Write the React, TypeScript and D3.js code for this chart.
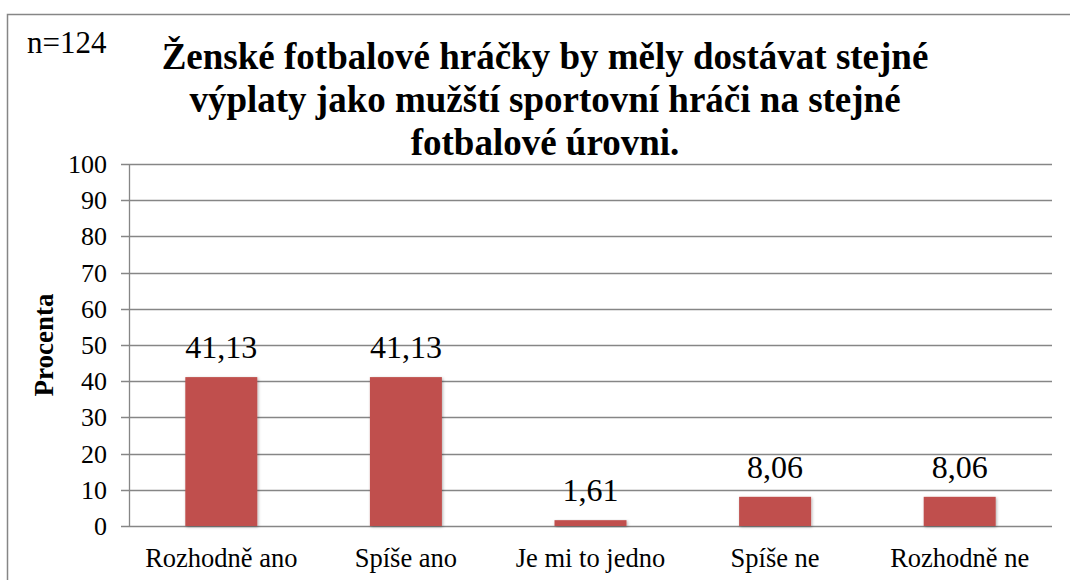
import React from "react";
import * as d3 from "d3";

const categories = ["Rozhodně ano", "Spíše ano", "Je mi to jedno", "Spíše ne", "Rozhodně ne"];
const values = [41.13, 41.13, 1.61, 8.06, 8.06];
const valueLabels = ["41,13", "41,13", "1,61", "8,06", "8,06"];
const yTicks = [0, 10, 20, 30, 40, 50, 60, 70, 80, 90, 100];
const titleLines = [
  "Ženské fotbalové hráčky by měly dostávat stejné",
  "výplaty jako mužští sportovní hráči na stejné",
  "fotbalové úrovni.",
];
const nLabel = "n=124";
const yAxisTitle = "Procenta";

const W = 1070;
const H = 580;
const plot = { left: 129, right: 1052, top: 164, bottom: 526 };
const FONT = '"Liberation Serif", "DejaVu Serif", serif';
const GRID = "#868686";
const BAR = "#C0504D";

const txt = (size: number, bold = false): React.CSSProperties => ({
  fontFamily: FONT,
  fontSize: size,
  fontWeight: bold ? 700 : 400,
});

export default function App() {
  const x = d3
    .scaleBand<string>()
    .domain(categories)
    .range([plot.left, plot.right])
    .paddingInner(0.61)
    .paddingOuter(0.305);
  const y = d3.scaleLinear().domain([0, 100]).range([plot.bottom, plot.top]);
  const band = (plot.right - plot.left) / categories.length;

  return (
    <svg
      width={W}
      height={H}
      style={{ position: "absolute", left: 0, top: 0, display: "block", background: "#fff" }}
    >
      <defs>
        <filter id="sh" x="-20%" y="-20%" width="140%" height="140%">
          <feDropShadow dx="1" dy="1" stdDeviation="1.6" floodColor="#000" floodOpacity="0.3" />
        </filter>
      </defs>
      <rect x={7.5} y={14.5} width={W} height={H} fill="#fff" stroke={GRID} strokeWidth={1.5} />

      {yTicks.map((t) => (
        <g key={t}>
          <line
            x1={plot.left - 8}
            x2={plot.right}
            y1={Math.round(y(t)) + 0.5}
            y2={Math.round(y(t)) + 0.5}
            stroke={GRID}
            strokeWidth={1.3}
          />
          <text x={107} y={Math.round(y(t))} dy="0.34em" textAnchor="end" style={txt(26)} fill="#000">
            {t}
          </text>
        </g>
      ))}
      <line x1={plot.left + 0.5} x2={plot.left + 0.5} y1={plot.top} y2={plot.bottom} stroke={GRID} strokeWidth={1.3} />

      {categories.map((c, i) => (
        <g key={c}>
          <rect
            x={x(c)}
            y={y(values[i])}
            width={x.bandwidth()}
            height={y(0) - y(values[i])}
            fill={BAR}
            filter="url(#sh)"
          />
          <text
            x={(x(c) as number) + x.bandwidth() / 2}
            y={y(values[i]) - 19}
            textAnchor="middle"
            style={txt(32)}
            fill="#000"
          >
            {valueLabels[i]}
          </text>
          <text x={plot.left + band * (i + 0.5)} y={567} textAnchor="middle" style={txt(26.5)} fill="#000">
            {c}
          </text>
        </g>
      ))}

      <text transform="translate(53, 345) rotate(-90)" textAnchor="middle" style={txt(27, true)} fill="#000">
        {yAxisTitle}
      </text>

      <text x={27} y={53} style={txt(31)} fill="#000">
        {nLabel}
      </text>

      {titleLines.map((l, i) => (
        <text key={i} x={545} y={69 + i * 43} textAnchor="middle" style={txt(37, true)} fill="#000">
          {l}
        </text>
      ))}
    </svg>
  );
}
